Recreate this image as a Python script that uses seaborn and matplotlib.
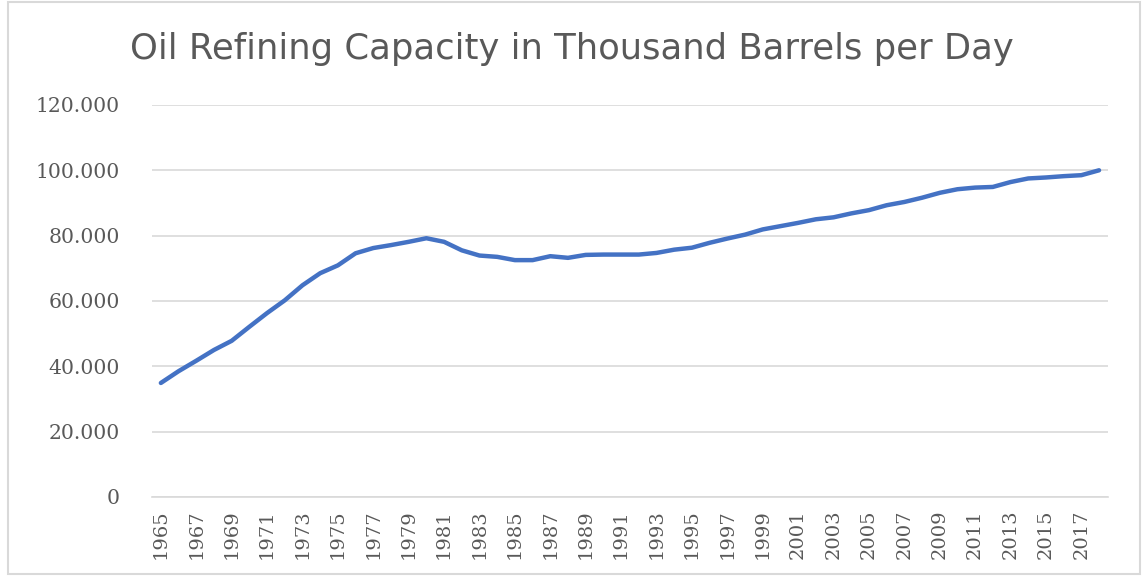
import matplotlib
matplotlib.use("Agg")
import matplotlib.pyplot as plt
import matplotlib.ticker as mticker
from matplotlib.patches import Rectangle
import pandas as pd
import seaborn as sns

# data (thousand barrels per day)
years = list(range(1965, 2019))
capacity = [
    34.9, 38.5, 41.7, 45.0, 47.8, 52.1, 56.3, 60.2, 64.8, 68.5,
    70.9, 74.6, 76.2, 77.1, 78.1, 79.2, 78.1, 75.5, 73.9, 73.5,
    72.5, 72.5, 73.7, 73.2, 74.1, 74.2, 74.2, 74.2, 74.7, 75.7,
    76.3, 77.8, 79.1, 80.3, 81.9, 82.9, 83.9, 85.0, 85.6, 86.8,
    87.8, 89.3, 90.3, 91.6, 93.1, 94.2, 94.7, 94.9, 96.4, 97.5,
    97.8, 98.2, 98.5, 100.0,
]
capacity = [v * 1000 for v in capacity]
y_ticks = [0, 20000, 40000, 60000, 80000, 100000, 120000]
title = "Oil Refining Capacity in Thousand Barrels per Day"

df = pd.DataFrame({"year": years, "capacity": capacity})

sns.set_style("white")
fig = plt.figure(figsize=(11.43, 5.76), dpi=100)
ax = fig.add_axes([0.1330, 0.1372, 0.8363, 0.6806])

sns.lineplot(data=df, x="year", y="capacity", ax=ax, color="#4472C4", linewidth=3.2)

ax.set_xlim(1964.5, 2018.5)
ax.set_ylim(0, 120000)
ax.set_yticks(y_ticks)
ax.yaxis.set_major_formatter(mticker.FuncFormatter(
    lambda v, p: "0" if v == 0 else f"{int(v):,}".replace(",", ".")))
ax.set_xticks(years[::2])
ax.set_xticklabels([str(y) for y in years[::2]], rotation=90)
ax.set_xlabel("")
ax.set_ylabel("")

ax.grid(axis="y", color="#d9d9d9", linewidth=1.2)
ax.set_axisbelow(True)
for s in ["top", "right", "left"]:
    ax.spines[s].set_visible(False)
ax.spines["bottom"].set_color("#d9d9d9")
ax.spines["bottom"].set_linewidth(1.2)
ax.tick_params(axis="both", length=0, colors="#595959")
ax.tick_params(axis="y", pad=23)
ax.tick_params(axis="x", pad=9)
for lbl in ax.get_yticklabels():
    lbl.set_fontfamily("DejaVu Serif")
    lbl.set_fontsize(14.7)
for lbl in ax.get_xticklabels():
    lbl.set_fontfamily("DejaVu Serif")
    lbl.set_fontsize(14)

fig.text(0.5, 0.915, title, ha="center", va="center", fontsize=25.5,
         color="#595959", family="DejaVu Sans")

# thin frame around the whole chart
fig.patches.append(Rectangle((0.007, 0.004), 0.99, 0.992, transform=fig.transFigure,
                             fill=False, edgecolor="#d9d9d9", linewidth=1.5))

fig.savefig("out.png", dpi=100)
plt.close(fig)
